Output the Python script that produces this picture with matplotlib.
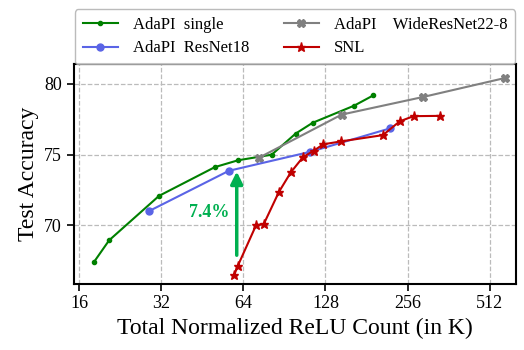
import matplotlib.pyplot as plt

plt.rcParams['font.family'] = ['Liberation Serif', 'DejaVu Serif']

# AdaPI single
single_x = [18.1, 20.6, 31.4, 50.3, 61.1, 81.3, 99.5, 114.8, 163, 191.7]
single_y = [67.4, 68.95, 72.09, 74.12, 74.6, 75.0, 76.49, 77.25, 78.46, 79.19]

# AdaPI ResNet18
r18_x = [28.9, 56.6, 112.5, 221]
r18_y = [71.02, 73.86, 75.2, 76.86]

# AdaPI WideResNet22-8
wrn_x = [73.1, 146.7, 292.7, 584]
wrn_y = [74.79, 77.83, 79.08, 80.42]

# SNL
snl_x = [59.3, 61.0, 71.2, 76.1, 86.4, 95.5, 105.9, 115.8, 125.5, 146.2, 207.8, 239.3, 269.2, 337.8]
snl_y = [66.53, 67.13, 70.01, 70.12, 72.37, 73.75, 74.83, 75.27, 75.73, 75.94, 76.38, 77.35, 77.72, 77.74]

xticks = [16, 32, 64, 128, 256, 512]

fig = plt.figure(figsize=(5.24, 3.5), dpi=100)
ax = fig.add_axes([0.141, 0.19, 0.844, 0.627])

l1, = ax.plot(single_x, single_y, color='green', marker='o', markersize=3, lw=1.5, label='AdaPI  single')
l3, = ax.plot(wrn_x, wrn_y, color='grey', marker='X', markersize=6, lw=1.5, label='AdaPI    WideResNet22-8')
l2, = ax.plot(r18_x, r18_y, color='#5a64e6', marker='o', markersize=5, lw=1.5, label='AdaPI  ResNet18')
l4, = ax.plot(snl_x, snl_y, color='#c00000', marker='*', markersize=6.5, lw=1.5, label='SNL')

ax.annotate('', xy=(60.5, 74.0), xytext=(60.5, 67.7),
            arrowprops=dict(arrowstyle='-|>', color='#00b050', lw=2.5, mutation_scale=18))
ax.text(57, 70.9, '7.4%', color='#00b050', fontsize=13, fontweight='bold', ha='right', va='center')

ax.set_xscale('log', base=2)
ax.set_xticks(xticks)
ax.set_xticklabels([str(t) for t in xticks])
ax.minorticks_off()
ax.set_xlim(15.3, 640)
ax.set_ylim(65.9, 81.4)
ax.set_yticks([70, 75, 80])
ax.tick_params(labelsize=13, length=5, width=1.2)
ax.grid(True, linestyle='--', color='#bbbbbb', lw=0.9)
for s in ax.spines.values():
    s.set_linewidth(1.5)

ax.set_xlabel('Total Normalized ReLU Count (in K)', fontsize=17)
ax.set_ylabel('Test Accuracy', fontsize=17)

fig.legend(handles=[l1, l2, l3, l4], ncol=2, loc='upper center', bbox_to_anchor=(0.563, 0.997),
           fontsize=12, frameon=True, edgecolor='#aaaaaa', handlelength=2.1,
           labelspacing=0.45, borderpad=0.45, columnspacing=2.1, handletextpad=0.9)

fig.savefig('out.png', dpi=100)
